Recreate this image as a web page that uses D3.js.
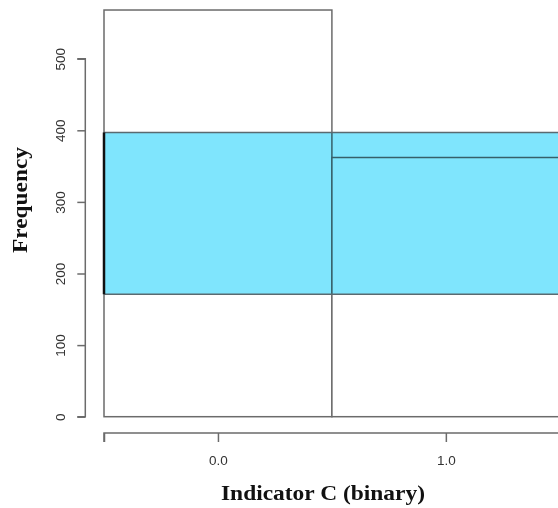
<!DOCTYPE html>
<html>
<head>
<meta charset="utf-8">
<script src="https://cdn.jsdelivr.net/npm/d3@7"></script>
<style>
  html, body { margin: 0; padding: 0; background: #fff; }
  svg { display: block; }
</style>
</head>
<body>
<svg id="chart" width="558" height="508"></svg>
<script>
// Histogram of a binary indicator, with a shaded frequency band
const categories = [0, 1];
const categoryLabels = ["0.0", "1.0"];
const counts = [568, 362];
const binEdges = [-0.5, 0.5, 1.5];
const yTicks = [0, 100, 200, 300, 400, 500];
const bandRange = [171, 397];

const svg = d3.select("#chart");
const lineColor = "#6b6b6b";

const x = d3.scaleLinear().domain([-0.5, 1.5]).range([104, 559.8]);
const y = d3.scaleLinear().domain([0, 500]).range([416.7, 58.7]);

// bars
svg.append("g")
  .selectAll("rect")
  .data(categories)
  .join("rect")
  .attr("x", (d, i) => x(binEdges[i]))
  .attr("y", (d, i) => y(counts[i]))
  .attr("width", (d, i) => x(binEdges[i + 1]) - x(binEdges[i]))
  .attr("height", (d, i) => y(0) - y(counts[i]))
  .attr("fill", "#fff")
  .attr("stroke", lineColor)
  .attr("stroke-width", 1.5);

// shaded band across the plot
svg.append("rect")
  .attr("x", x(-0.5))
  .attr("y", y(bandRange[1]))
  .attr("width", x(1.5) - x(-0.5) + 4)
  .attr("height", y(bandRange[0]) - y(bandRange[1]))
  .attr("fill", "#7fe5fd")
  .style("mix-blend-mode", "multiply");

svg.append("g")
  .selectAll("line")
  .data(bandRange)
  .join("line")
  .attr("x1", x(-0.5))
  .attr("x2", 562)
  .attr("y1", d => y(d))
  .attr("y2", d => y(d))
  .attr("stroke", "#5a6a70")
  .attr("stroke-width", 1.5);

svg.append("line")
  .attr("x1", x(-0.5)).attr("x2", x(-0.5))
  .attr("y1", y(bandRange[1])).attr("y2", y(bandRange[0]))
  .attr("stroke", "#111")
  .attr("stroke-width", 2.5);

// y axis
const yAxis = d3.axisLeft(y).tickValues(yTicks).tickSize(8).tickFormat(d3.format("d"));
const gy = svg.append("g").attr("transform", "translate(85.3,0)").call(yAxis);
gy.select(".domain").attr("stroke", lineColor).attr("stroke-width", 1.5)
  .attr("d", `M-8,${y(500)}H0V${y(0)}H-8`);
gy.selectAll(".tick line").attr("stroke", lineColor).attr("stroke-width", 1.5);
gy.selectAll(".tick text")
  .attr("x", 0).attr("y", 0).attr("dy", 0)
  .attr("transform", "translate(-20.5,0) rotate(-90)")
  .attr("text-anchor", "middle")
  .attr("font-family", "Liberation Sans, Arial, sans-serif")
  .attr("font-size", 13.5)
  .attr("fill", "#333");

// x axis
const xAxis = d3.axisBottom(x).tickValues([-0.5, 0, 1]).tickSize(9)
  .tickFormat(d => { const i = categories.indexOf(d); return i >= 0 ? categoryLabels[i] : ""; });
const gx = svg.append("g").attr("transform", "translate(0,433)").call(xAxis);
gx.select(".domain").attr("stroke", lineColor).attr("stroke-width", 1.5)
  .attr("d", `M${x(-0.5)},9V0H562`);
gx.selectAll(".tick line").attr("stroke", lineColor).attr("stroke-width", 1.5);
gx.selectAll(".tick text")
  .attr("y", 32).attr("dy", 0)
  .attr("font-family", "Liberation Sans, Arial, sans-serif")
  .attr("font-size", 13.5)
  .attr("fill", "#333");

// axis titles
svg.append("text")
  .attr("x", 323).attr("y", 500)
  .attr("text-anchor", "middle")
  .attr("font-family", "Liberation Serif, DejaVu Serif, serif")
  .attr("font-weight", "bold")
  .attr("font-size", 21)
  .attr("textLength", 204)
  .attr("lengthAdjust", "spacingAndGlyphs")
  .attr("fill", "#111")
  .text("Indicator C (binary)");

svg.append("text")
  .attr("transform", "translate(27,200) rotate(-90)")
  .attr("text-anchor", "middle")
  .attr("font-family", "Liberation Serif, DejaVu Serif, serif")
  .attr("font-weight", "bold")
  .attr("font-size", 21)
  .attr("textLength", 106)
  .attr("lengthAdjust", "spacingAndGlyphs")
  .attr("fill", "#111")
  .text("Frequency");
</script>
</body>
</html>
